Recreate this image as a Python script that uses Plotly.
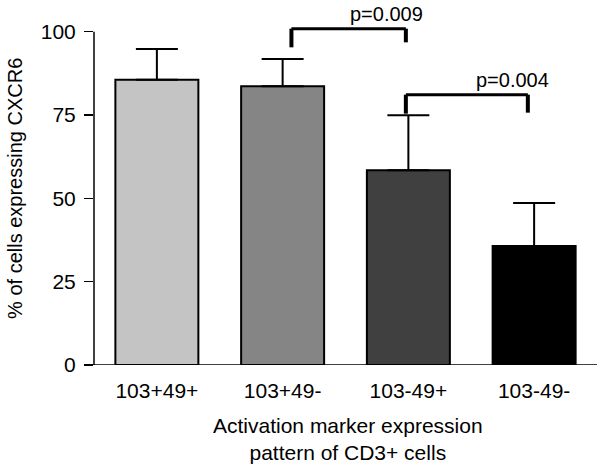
import plotly.graph_objects as go

categories = ["103+49+", "103+49-", "103-49+", "103-49-"]
means = [85.6, 83.6, 58.4, 35.7]
err_up = [9.2, 8.2, 16.5, 12.9]
bar_colors = ["#c4c4c4", "#858585", "#404040", "#000000"]
y_ticks = [0, 25, 50, 75, 100]
comparisons = [
    {"left": 1.07, "right": 1.98, "top": 100.9, "left_end": 95.3, "right_end": 96.8, "label": "p=0.009", "shift": -19},
    {"left": 1.98, "right": 2.95, "top": 81.1, "left_end": 75.4, "right_end": 75.7, "label": "p=0.004", "shift": -15},
]

FONT = "Liberation Sans, Arial, sans-serif"

fig = go.Figure()
fig.add_trace(go.Bar(
    x=list(range(len(categories))),
    y=means,
    width=0.66,
    marker=dict(color=bar_colors, line=dict(color="#000000", width=2)),
    error_y=dict(type="data", symmetric=False, array=err_up,
                 arrayminus=[0] * len(means), color="#000000",
                 thickness=2, width=21),
    showlegend=False,
    hoverinfo="skip",
))

shapes = [
    dict(type="line", xref="paper", yref="y", x0=0, x1=0, y0=0, y1=100,
         line=dict(color="#000000", width=1.5)),
    dict(type="line", xref="paper", yref="y", x0=-0.02, x1=1, y0=0, y1=0,
         line=dict(color="#000000", width=1.5)),
]
annotations = []
for c in comparisons:
    shapes.append(dict(type="line", xref="x", yref="y", x0=c["left"], x1=c["right"],
                       y0=c["top"], y1=c["top"], line=dict(color="#000000", width=3)))
    shapes.append(dict(type="line", xref="x", yref="y", x0=c["left"], x1=c["left"],
                       y0=c["top"], y1=c["left_end"], line=dict(color="#000000", width=4)))
    shapes.append(dict(type="line", xref="x", yref="y", x0=c["right"], x1=c["right"],
                       y0=c["top"], y1=c["right_end"], line=dict(color="#000000", width=4)))
    annotations.append(dict(x=c["right"], y=c["top"], xref="x", yref="y", xshift=c["shift"],
                            text=c["label"], showarrow=False, xanchor="center",
                            yanchor="bottom", yshift=2,
                            font=dict(family=FONT, size=20, color="#000000")))

# plot area: 503 x 350 px
annotations.append(dict(x=-79 / 503, y=0.503, xref="paper", yref="paper", textangle=-90,
                        xanchor="center", yanchor="middle",
                        text="% of cells expressing CXCR6", showarrow=False,
                        font=dict(family=FONT, size=20, color="#000000")))
annotations.append(dict(x=0.504, y=-73.5 / 350, xref="paper", yref="paper",
                        xanchor="center", yanchor="middle",
                        text="Activation marker expression<br>pattern of CD3+ cells",
                        showarrow=False, font=dict(family=FONT, size=21, color="#000000")))

fig.update_layout(
    width=602, height=467,
    margin=dict(l=94, r=5, t=15, b=102),
    paper_bgcolor="white", plot_bgcolor="white",
    font=dict(family=FONT, size=21, color="#000000"),
    shapes=shapes, annotations=annotations,
    hovermode=False,
)
fig.update_xaxes(
    range=[-0.5, 3.5], tickmode="array", tickvals=list(range(len(categories))),
    ticktext=categories, showline=False, ticks="", showgrid=False, zeroline=False,
    ticklabelstandoff=11, automargin=False,
)
fig.update_yaxes(
    range=[0, 105], tickmode="array", tickvals=y_ticks, ticks="outside",
    ticklen=9, tickwidth=1.5, tickcolor="#000000", showline=False, showgrid=False,
    zeroline=False, ticklabelstandoff=4, automargin=False,
)

# remove the default 8px page margin so the figure fills the window exactly
fig.write_html("out.html",
               config={"displayModeBar": False, "staticPlot": True},
               post_script="document.body.style.margin='0';document.body.style.overflow='hidden';")
